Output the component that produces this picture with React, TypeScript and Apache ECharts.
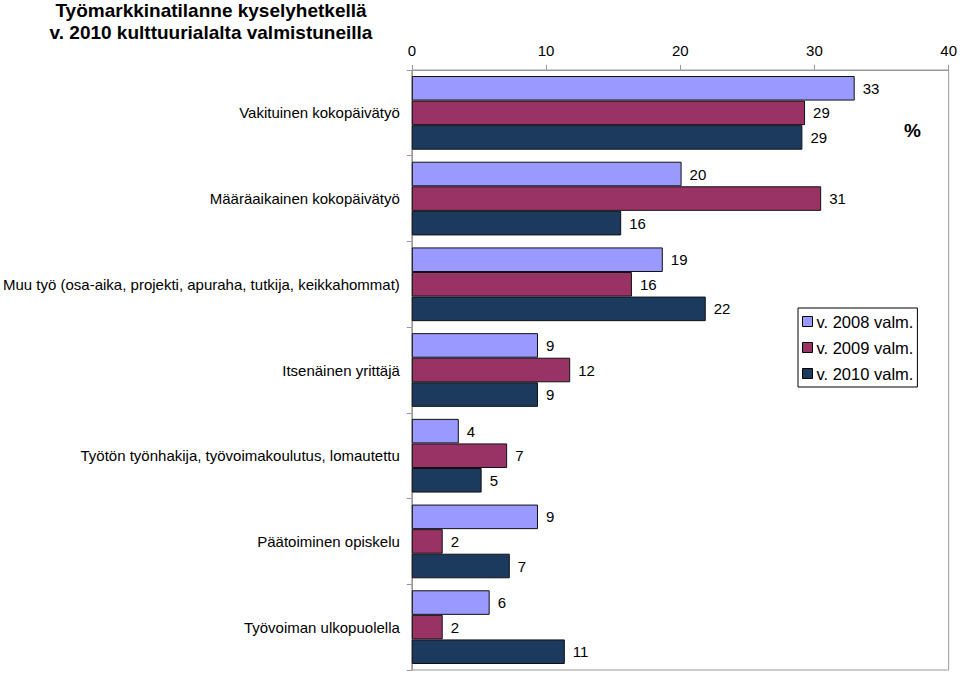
import React, { useEffect, useRef } from "react";
import * as echarts from "echarts";

const categories = [
  "Vakituinen kokopäivätyö",
  "Määräaikainen kokopäivätyö",
  "Muu työ (osa-aika, projekti, apuraha, tutkija, keikkahommat)",
  "Itsenäinen yrittäjä",
  "Työtön työnhakija, työvoimakoulutus, lomautettu",
  "Päätoiminen opiskelu",
  "Työvoiman ulkopuolella",
];
const seriesNames = ["v. 2008 valm.", "v. 2009 valm.", "v. 2010 valm."];
const values2008 = [33.0, 20.1, 18.7, 9.4, 3.5, 9.4, 5.8];
const values2009 = [29.3, 30.5, 16.4, 11.8, 7.1, 2.3, 2.3];
const values2010 = [29.1, 15.6, 21.9, 9.4, 5.2, 7.3, 11.4];
const xTicks = [0, 10, 20, 30, 40];
const colors = ["#9999FF", "#993366", "#1B3A5E"];

export default function App() {
  const ref = useRef<HTMLDivElement>(null);
  useEffect(() => {
    if (!ref.current) return;
    const chart = echarts.init(ref.current, undefined, { renderer: "svg" });
    const font = "Liberation Sans, Arial, sans-serif";
    const data = [values2008, values2009, values2010];
    chart.setOption({
      animation: false,
      textStyle: { fontFamily: font },
      title: {
        text: "Työmarkkinatilanne kyselyhetkellä\nv. 2010 kulttuurialalta valmistuneilla",
        left: 206,
        top: -6,
        textAlign: "center",
        textStyle: { fontSize: 19, fontWeight: "bold", color: "#000", lineHeight: 22, fontFamily: font },
      },
      legend: {
        orient: "vertical",
        left: 798,
        top: 308,
        itemWidth: 10,
        itemHeight: 10,
        itemGap: 9,
        padding: [5, 4, 5, 4],
        borderColor: "#000",
        borderWidth: 1,
        icon: "rect",
        data: seriesNames.map((n) => ({ name: n, itemStyle: { borderColor: "#000", borderWidth: 1 } })),
        textStyle: { fontSize: 16.5, color: "#000", fontFamily: font, padding: [0, 0, 0, -1] },
      },
      graphic: [
        {
          type: "text",
          left: 904,
          top: 121,
          style: { text: "%", fontSize: 19, fontWeight: "bold", fill: "#000", fontFamily: font },
        },
      ],
      grid: {
        left: 409,
        top: 70,
        right: 10,
        bottom: 3,
        show: true,
        borderColor: "#999",
        borderWidth: 1,
        containLabel: false,
      },
      xAxis: {
        type: "value",
        position: "top",
        min: 0,
        max: 40,
        interval: 10,
        axisLine: { show: true, lineStyle: { color: "#999" } },
        axisTick: { show: true, length: 5, lineStyle: { color: "#999" } },
        splitLine: { show: false },
        axisLabel: {
          fontSize: 15,
          color: "#000",
          margin: 12,
          fontFamily: font,
          formatter: (v: number) => (xTicks.includes(v) ? String(v) : ""),
        },
      },
      yAxis: {
        type: "category",
        inverse: true,
        data: categories,
        axisLine: { show: true, lineStyle: { color: "#999" } },
        axisTick: { show: true, length: 5, lineStyle: { color: "#999" } },
        axisLabel: { fontSize: 15, color: "#000", margin: 12, fontFamily: font },
      },
      series: seriesNames.map((name, i) => ({
        name,
        type: "bar",
        data: data[i],
        barGap: "0%",
        barCategoryGap: "14%",
        itemStyle: { color: colors[i], borderColor: "#111", borderWidth: 1 },
        label: {
          show: true,
          position: "right",
          distance: 8,
          fontSize: 15,
          color: "#000",
          fontFamily: font,
          formatter: (p: any) => String(Math.round(p.value)),
        },
      })),
    });
    return () => chart.dispose();
  }, []);
  return <div ref={ref} style={{ width: 960, height: 673, position: "absolute", left: 0, top: 0, background: "#fff" }} />;
}
